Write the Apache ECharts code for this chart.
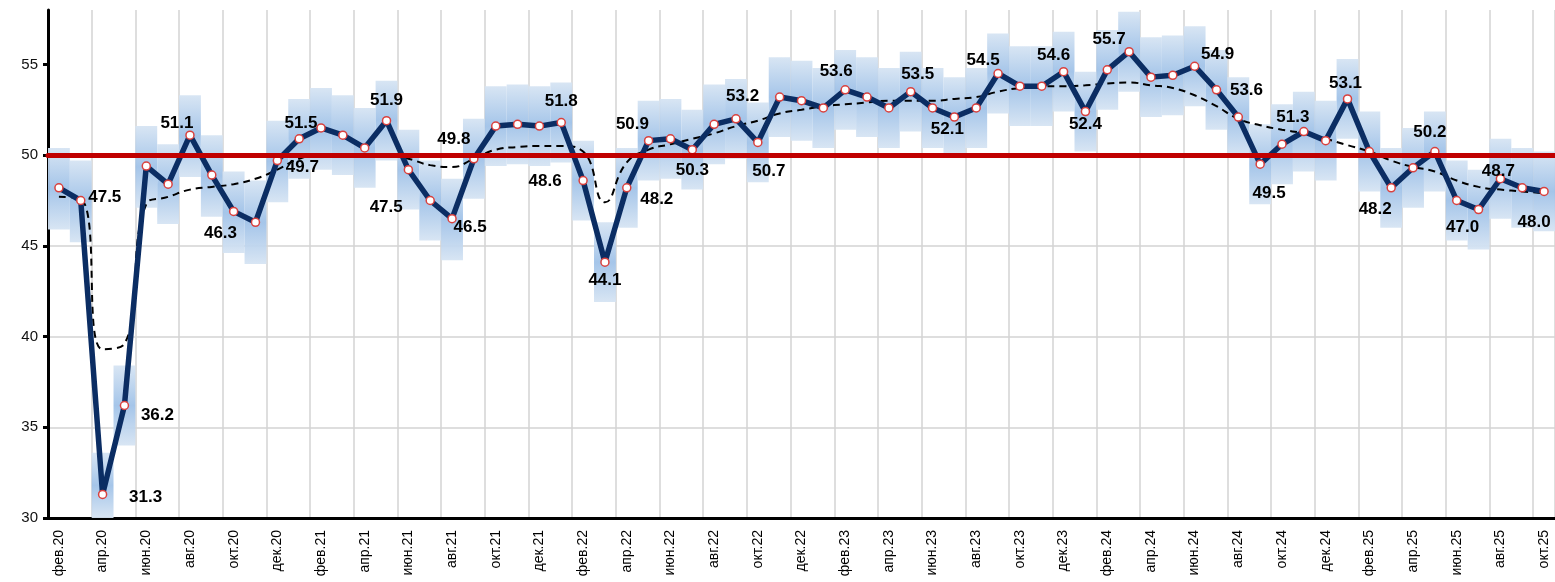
<!DOCTYPE html>
<html>
<head>
<meta charset="utf-8">
<script src="https://cdn.jsdelivr.net/npm/echarts@6/dist/echarts.min.js"></script>
<style>
  html, body { margin: 0; padding: 0; background: #fff; }
  #chart { width: 1555px; height: 582px; }
</style>
</head>
<body>
<div id="chart"></div>
<script>
// months фев.20 .. окт.25
var monthNames = ['янв', 'фев', 'мар', 'апр', 'май', 'июн', 'июл', 'авг', 'сен', 'окт', 'ноя', 'дек'];
var categories = [];
for (var k = 1; k <= 69; k++) {
    categories.push(monthNames[k % 12] + '.' + (20 + Math.floor(k / 12)));
}

// index value
var values = [48.2, 47.5, 31.3, 36.2, 49.4, 48.4, 51.1, 48.9, 46.9, 46.3,
    49.7, 50.9, 51.5, 51.1, 50.4, 51.9, 49.2, 47.5, 46.5, 49.8,
    51.6, 51.7, 51.6, 51.8, 48.6, 44.1, 48.2, 50.8, 50.9, 50.3,
    51.7, 52.0, 50.7, 53.2, 53.0, 52.6, 53.6, 53.2, 52.6, 53.5,
    52.6, 52.1, 52.6, 54.5, 53.8, 53.8, 54.6, 52.4, 54.7, 55.7,
    54.3, 54.4, 54.9, 53.6, 52.1, 49.5, 50.6, 51.3, 50.8, 53.1,
    50.2, 48.2, 49.3, 50.2, 47.5, 47.0, 48.7, 48.2, 48.0];

// range band (low / high)
var lows = [45.9, 45.2, 29.0, 34.0, 47.1, 46.2, 48.8, 46.6, 44.6, 44.0,
    47.4, 48.7, 49.2, 48.9, 48.2, 49.7, 47.0, 45.3, 44.2, 47.6,
    49.4, 49.5, 49.4, 49.6, 46.4, 41.9, 46.0, 48.6, 48.7, 48.1,
    49.5, 49.8, 48.5, 51.0, 50.8, 50.4, 51.4, 51.0, 50.4, 51.3,
    50.4, 50.0, 50.4, 52.3, 51.6, 51.6, 52.4, 50.2, 52.5, 53.5,
    52.1, 52.2, 52.7, 51.4, 49.9, 47.3, 48.4, 49.1, 48.6, 50.9,
    48.0, 46.0, 47.1, 48.0, 45.3, 44.8, 46.5, 46.0, 45.8];
var highs = [50.4, 49.7, 33.6, 38.4, 51.6, 50.6, 53.3, 51.1, 49.1, 48.6,
    51.9, 53.1, 53.7, 53.3, 52.6, 54.1, 51.4, 49.7, 48.7, 52.0,
    53.8, 53.9, 53.8, 54.0, 50.8, 46.3, 50.4, 53.0, 53.1, 52.5,
    53.9, 54.2, 52.9, 55.4, 55.2, 54.8, 55.8, 55.4, 54.8, 55.7,
    54.8, 54.3, 54.8, 56.7, 56.0, 56.0, 56.8, 54.6, 56.9, 57.9,
    56.5, 56.6, 57.1, 55.8, 54.3, 51.7, 52.8, 53.5, 53.0, 55.3,
    52.4, 50.4, 51.5, 52.4, 49.7, 49.2, 50.9, 50.4, 50.2];

// smoothed trend (dashed)
var trend = [47.7, 47.6, 39.3, 39.6, 47.3, 47.7, 48.1, 48.25, 48.4, 48.7,
    49.2, 49.8, 50.0, 50.0, 50.0, 50.0, 49.8, 49.45, 49.35, 49.8,
    50.3, 50.45, 50.5, 50.5, 50.2, 47.4, 49.6, 50.3, 50.6, 50.9,
    51.2, 51.6, 51.9, 52.3, 52.5, 52.7, 52.8, 52.9, 53.0, 53.0,
    53.0, 53.1, 53.2, 53.5, 53.7, 53.8, 53.8, 53.85, 53.95, 54.0,
    53.85, 53.7, 53.3, 52.7, 52.0, 51.65, 51.4, 51.2, 50.9, 50.55,
    50.2, 49.7, 49.35, 49.1, 48.6, 48.25, 48.1, 48.0, 47.9];

var threshold = 50;
var yTicks = [30, 35, 40, 45, 50, 55];

// where each value label sits, relative to its point: index -> [dx, dy]
var labelOffsets = {
    1: [24, -3], 2: [43, 3], 3: [33, 10], 6: [-13, -12], 9: [-35, 11],
    10: [25, 7], 12: [-20, -5], 15: [0, -20], 17: [-44, 7], 18: [18, 9],
    19: [-20, -19], 23: [0, -21], 24: [-38, 1], 25: [0, 18], 26: [30, 12],
    28: [-38, -15], 29: [0, 21], 32: [11, 29], 33: [-37, -1], 36: [-9, -19],
    39: [7, -17], 41: [-7, 12], 43: [-15, -13], 46: [-10, -16], 47: [0, 13],
    49: [-20, -12], 52: [23, -12], 53: [30, 0], 55: [9, 29], 57: [-11, -14],
    59: [-2, -16], 61: [-16, 22], 63: [-5, -19], 65: [-16, 18], 66: [-2, -7],
    68: [-10, 31]
};

var font = 'Arial, "Liberation Sans", sans-serif';

var chart = echarts.init(document.getElementById('chart'));

var rangeData = values.map(function (v, i) { return [i, lows[i], highs[i]]; });
var lineData = values.map(function (v, i) {
    if (!labelOffsets[i]) return v;
    return { value: v, label: { show: true, offset: labelOffsets[i] } };
});

var option = {
    backgroundColor: '#fff',
    animation: false,
    grid: { left: 48, right: 0, top: 10, bottom: 64 },
    xAxis: {
        type: 'category',
        data: categories,
        boundaryGap: true,
        axisLine: { lineStyle: { color: '#000', width: 3 } },
        axisTick: { interval: 1, length: 5, lineStyle: { color: '#000', width: 3 } },
        axisLabel: {
            interval: 1, rotate: 90, margin: 12,
            color: '#000', fontSize: 14, fontFamily: font
        },
        splitLine: { show: true, interval: 1, lineStyle: { color: '#d3d3d3', width: 1.5 } }
    },
    yAxis: {
        type: 'value',
        min: 30, max: 58, interval: 5,
        axisLine: { show: true, lineStyle: { color: '#000', width: 3 } },
        axisTick: { show: true, length: 5, customValues: yTicks, lineStyle: { color: '#000', width: 3 } },
        axisLabel: { color: '#111', fontSize: 15, fontFamily: font, margin: 10, customValues: yTicks },
        splitLine: { show: true, showMaxLine: false, lineStyle: { color: '#d3d3d3', width: 1.5 } }
    },
    series: [
        {
            name: 'диапазон',
            type: 'custom',
            z: 1,
            data: rangeData,
            encode: { x: 0, y: [1, 2] },
            renderItem: function (params, api) {
                var i = api.value(0);
                var top = api.coord([i, api.value(2)]);
                var bot = api.coord([i, api.value(1)]);
                var w = api.size([1, 0])[0];
                var rect = echarts.graphic.clipRectByRect(
                    { x: top[0] - w / 2, y: top[1], width: w, height: bot[1] - top[1] },
                    params.coordSys
                );
                if (!rect) return;
                return {
                    type: 'rect',
                    shape: rect,
                    style: {
                        fill: new echarts.graphic.LinearGradient(0, 0, 0, 1, [
                            { offset: 0, color: 'rgba(214,228,243,0.95)' },
                            { offset: 0.5, color: 'rgba(160,194,232,0.95)' },
                            { offset: 1, color: 'rgba(214,228,243,0.95)' }
                        ])
                    }
                };
            }
        },
        {
            name: 'порог',
            type: 'line',
            z: 2,
            data: [],
            markLine: {
                silent: true,
                symbol: 'none',
                label: { show: false },
                lineStyle: { color: '#c00000', width: 5, type: 'solid', cap: 'round' },
                data: [{ yAxis: threshold }]
            }
        },
        {
            name: 'тренд',
            type: 'line',
            z: 3,
            data: trend,
            smooth: true,
            symbol: 'none',
            lineStyle: { color: '#000', width: 2, type: [7, 5] }
        },
        {
            name: 'индекс',
            type: 'line',
            z: 4,
            data: lineData,
            symbol: 'circle',
            symbolSize: 8,
            itemStyle: { color: '#fff', borderColor: '#d9413e', borderWidth: 1.5 },
            lineStyle: { color: '#0b2d63', width: 5.5 },
            label: {
                show: false,
                position: 'inside',
                color: '#000',
                fontSize: 17,
                fontWeight: 'bold',
                fontFamily: font,
                formatter: function (p) { return p.value.toFixed(1); }
            }
        }
    ]
};

chart.setOption(option);
</script>
</body>
</html>
